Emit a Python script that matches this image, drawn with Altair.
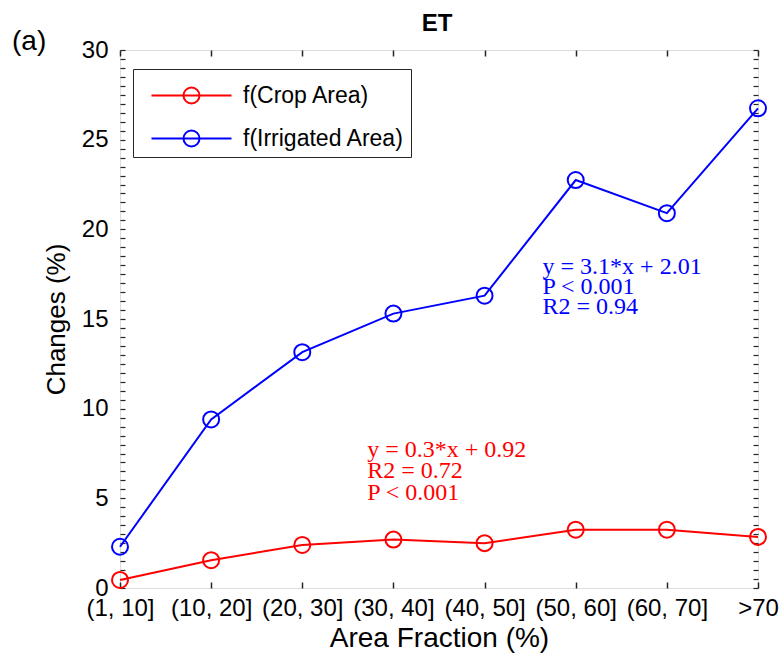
import altair as alt
import pandas as pd

categories = ["(1, 10]", "(10, 20]", "(20, 30]", "(30, 40]", "(40, 50]",
              "(50, 60]", "(60, 70]", ">70"]
crop_area = [0.45, 1.55, 2.4, 2.7, 2.5, 3.25, 3.25, 2.85]
irrigated_area = [2.3, 9.4, 13.15, 15.3, 16.3, 22.75, 20.9, 26.75]
series_names = ["f(Crop Area)", "f(Irrigated Area)"]
series_colors = ["#ff0000", "#0000ff"]
y_major_ticks = [0, 5, 10, 15, 20, 25, 30]
y_minor_ticks = [i / 2 for i in range(61)]

blue_text = "y = 3.1*x + 2.01\nP < 0.001\nR2 = 0.94"
red_text = "y = 0.3*x + 0.92\nR2 = 0.72\nP < 0.001"

SANS = "Liberation Sans"
SERIF = "Liberation Serif"
AX = "#262626"

df = pd.DataFrame({
    "category": categories * 2,
    "value": crop_area + irrigated_area,
    "series": [series_names[0]] * len(categories) + [series_names[1]] * len(categories),
})

xscale = alt.Scale(type="point", padding=0)
yscale = alt.Scale(domain=[0, 30], nice=False, zero=True)

color = alt.Color(
    "series:N",
    scale=alt.Scale(domain=series_names, range=series_colors),
    legend=alt.Legend(
        orient="none", legendX=13, legendY=19, title=" ", titleFontSize=1,
        titlePadding=8,
        strokeColor=AX, fillColor="white", padding=6,
        symbolType="M-5,0H5M-1,0A1,1 0 1,0 1,0A1,1 0 1,0 -1,0",
        symbolSize=256, symbolStrokeWidth=2, symbolOffset=41,
        symbolFillColor="transparent",
        labelOffset=40, labelFontSize=23, labelFont=SANS, labelColor="black",
        labelLimit=400, rowPadding=18,
    ),
)

main = alt.Chart(df).mark_line(
    strokeWidth=2,
    point=alt.OverlayMarkDef(filled=False, size=256, strokeWidth=2),
).encode(
    x=alt.X("category:N", sort=categories, scale=xscale,
            axis=alt.Axis(orient="bottom", ticks=False, domain=False, labelAngle=0,
                          labelFontSize=24, labelFont=SANS, labelColor="black",
                          labelPadding=8, title="Area Fraction (%)", titleFontSize=28,
                          titleFont=SANS, titleFontWeight="normal", titleColor="black",
                          titlePadding=4, grid=False)),
    y=alt.Y("value:Q", scale=yscale,
            axis=alt.Axis(orient="left", values=y_major_ticks, ticks=False, domain=False,
                          labelFontSize=24, labelFont=SANS, labelColor="black",
                          labelPadding=12, title="Changes (%)", titleFontSize=26,
                          titleFont=SANS, titleFontWeight="normal", titleColor="black",
                          titlePadding=12, grid=False)),
    color=color,
    order=alt.Order("series:N"),
)

ticks1 = alt.Chart(df).mark_point(opacity=0).encode(
    x=alt.X("category:N", sort=categories, scale=xscale,
            axis=alt.Axis(orient="bottom", labels=False, domain=False, title=None,
                          tickSize=6, offset=-6, tickColor=AX, tickWidth=1.5, grid=False)),
    y=alt.Y("value:Q", scale=yscale,
            axis=alt.Axis(orient="left", values=y_minor_ticks, labels=False, domain=False,
                          title=None, tickSize=5, offset=-5, tickColor=AX, tickWidth=1.2,
                          grid=False)),
)

ticks2 = alt.Chart(df).mark_point(opacity=0).encode(
    x=alt.X("category:N", sort=categories, scale=xscale,
            axis=alt.Axis(orient="top", labels=False, domain=False, title=None,
                          tickSize=6, offset=-6, tickColor=AX, tickWidth=1.5, grid=False)),
    y=alt.Y("value:Q", scale=yscale,
            axis=alt.Axis(orient="right", values=y_minor_ticks, labels=False, domain=False,
                          title=None, tickSize=5, offset=-5, tickColor=AX, tickWidth=1.2,
                          grid=False)),
)

blue_ann = alt.Chart().mark_text(
    text=blue_text, lineBreak="\n", lineHeight=20, align="left", baseline="middle",
    font=SERIF, fontSize=24, color=series_colors[1], dx=58,
).encode(
    x=alt.datum("(40, 50]", scale=xscale, axis=None),
    y=alt.datum(17.9, axis=None),
)

red_ann = alt.Chart().mark_text(
    text=red_text, lineBreak="\n", lineHeight=21.5, align="left", baseline="middle",
    font=SERIF, fontSize=24, color=series_colors[0], dx=65,
).encode(
    x=alt.datum("(20, 30]", scale=xscale, axis=None),
    y=alt.datum(7.7, axis=None),
)

panel = alt.Chart().mark_text(
    text="(a)", align="left", baseline="middle", font=SANS, fontSize=28, color="black",
).encode(x=alt.value(-108), y=alt.value(-8))

title = alt.Chart().mark_text(
    text="ET", align="center", baseline="alphabetic", font=SANS, fontSize=24,
    fontWeight="bold", color="black",
).encode(x=alt.value(317), y=alt.value(-19))

chart = alt.layer(main, ticks1, ticks2, blue_ann, red_ann, panel, title).resolve_axis(
    x="independent", y="independent"
).properties(
    width=638, height=538,
    autosize=alt.AutoSizeParams(type="none"),
    padding={"left": 120, "top": 50, "right": 23, "bottom": 70},
).configure_view(stroke=AX, strokeWidth=1.5).configure(background="white")

chart.save("out.html", embed_options={"renderer": "svg", "actions": False})
